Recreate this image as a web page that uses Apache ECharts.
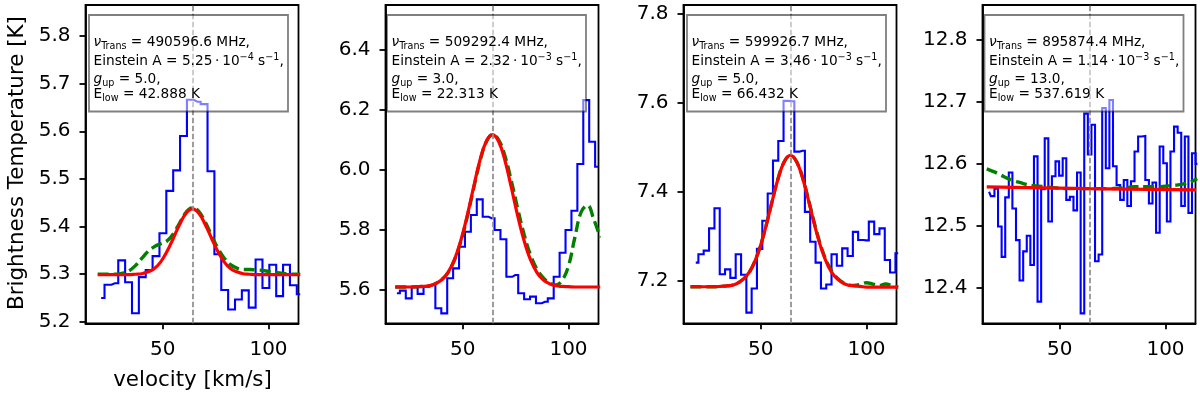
<!DOCTYPE html>
<html>
<head>
<meta charset="utf-8">
<script src="https://cdn.jsdelivr.net/npm/echarts@6.0.0/dist/echarts.min.js"></script>
<style>
html,body{margin:0;padding:0;background:#ffffff;}
#chart{width:1200px;height:397px;}
</style>
</head>
<body>
<div id="chart"></div>
<script>
// ---------------- DATA ----------------
// Panel 1 : 490596.6 MHz
const vel1 = [20.8, 24.0, 27.3, 30.5, 33.8, 37.0, 40.3, 43.5, 46.8, 50.0, 53.3, 56.5, 59.8, 63.0, 66.3, 69.5, 72.8, 76.0, 79.3, 82.5, 85.8, 89.0, 92.3, 95.5, 98.8, 102.0, 105.3, 108.5, 111.8, 115.0];
const tb1 = [5.250, 5.278, 5.281, 5.329, 5.283, 5.218, 5.294, 5.309, 5.338, 5.386, 5.475, 5.518, 5.590, 5.666, 5.662, 5.657, 5.516, 5.342, 5.267, 5.226, 5.247, 5.266, 5.230, 5.331, 5.271, 5.320, 5.254, 5.320, 5.277, 5.258];
const fitVel1 = [19.2, 22, 25, 28, 31, 34, 37, 40, 43, 46, 49, 52, 55, 58, 61, 64, 67, 70, 73, 76, 79, 82, 85, 88, 91, 94, 97, 100, 103, 106, 109, 112, 115];
const fitRed1 = [5.299, 5.299, 5.299, 5.299, 5.299, 5.299, 5.300, 5.301, 5.305, 5.312, 5.326, 5.348, 5.376, 5.405, 5.428, 5.437, 5.428, 5.405, 5.376, 5.348, 5.326, 5.312, 5.305, 5.301, 5.300, 5.299, 5.299, 5.299, 5.299, 5.299, 5.299, 5.299, 5.299];
const fitGreen1 = [5.300, 5.300, 5.300, 5.300, 5.302, 5.307, 5.318, 5.333, 5.348, 5.358, 5.364, 5.370, 5.385, 5.408, 5.430, 5.440, 5.432, 5.410, 5.382, 5.355, 5.334, 5.320, 5.313, 5.310, 5.310, 5.309, 5.308, 5.306, 5.304, 5.302, 5.301, 5.300, 5.300];

// Panel 2 : 509292.4 MHz
const vel2 = [18.8, 21.6, 24.4, 27.2, 30.0, 32.8, 35.6, 38.4, 41.2, 44.0, 46.8, 49.6, 52.4, 55.2, 58.0, 60.8, 63.6, 66.4, 69.2, 72.0, 74.8, 77.6, 80.4, 83.2, 86.0, 88.8, 91.6, 94.4, 97.2, 100.0, 102.8, 105.6, 108.4, 111.2, 114.0];
const tb2 = [5.589, 5.598, 5.572, 5.609, 5.587, 5.611, 5.617, 5.539, 5.522, 5.639, 5.672, 5.744, 5.794, 5.850, 5.902, 5.844, 5.839, 5.800, 5.769, 5.644, 5.650, 5.589, 5.569, 5.578, 5.556, 5.561, 5.572, 5.644, 5.724, 5.800, 5.864, 6.020, 6.233, 6.094, 6.011];
const fitVel2 = [18, 22, 25, 28, 31, 34, 37, 40, 43, 46, 49, 52, 55, 58, 61, 64, 67, 70, 73, 76, 79, 82, 85, 88, 91, 94, 97, 100, 103, 106, 109, 112, 115];
const fitRed2 = [5.610, 5.610, 5.610, 5.611, 5.612, 5.614, 5.621, 5.634, 5.659, 5.701, 5.764, 5.846, 5.940, 6.030, 6.094, 6.118, 6.094, 6.030, 5.940, 5.846, 5.764, 5.701, 5.659, 5.634, 5.621, 5.614, 5.612, 5.611, 5.610, 5.610, 5.610, 5.610, 5.610];
const fitGreen2 = [5.610, 5.610, 5.610, 5.611, 5.612, 5.614, 5.621, 5.634, 5.658, 5.699, 5.760, 5.841, 5.935, 6.026, 6.092, 6.118, 6.100, 6.045, 5.962, 5.870, 5.785, 5.717, 5.670, 5.641, 5.624, 5.617, 5.632, 5.680, 5.775, 5.860, 5.882, 5.835, 5.775];

// Panel 3 : 599926.7 MHz
const vel3 = [19.2, 21.7, 24.2, 26.8, 29.3, 31.8, 34.3, 36.8, 39.4, 41.9, 44.4, 46.9, 49.4, 52.0, 54.5, 57.0, 59.5, 62.0, 64.6, 67.1, 69.6, 72.1, 74.6, 77.2, 79.7, 82.2, 84.7, 87.2, 89.8, 92.3, 94.8, 97.3, 99.8, 102.4, 104.9, 107.4, 109.9, 112.4, 115.0];
const tb3 = [7.241, 7.260, 7.268, 7.318, 7.363, 7.215, 7.226, 7.207, 7.260, 7.214, 7.129, 7.183, 7.272, 7.335, 7.396, 7.470, 7.514, 7.604, 7.603, 7.490, 7.492, 7.355, 7.288, 7.241, 7.183, 7.192, 7.260, 7.234, 7.273, 7.256, 7.310, 7.292, 7.291, 7.333, 7.305, 7.318, 7.247, 7.219, 7.262];
const fitVel3 = [16.7, 19, 22, 25, 28, 31, 34, 37, 40, 43, 46, 49, 52, 55, 58, 61, 64, 67, 70, 73, 76, 79, 82, 85, 88, 91, 94, 97, 100, 103, 106, 109, 112, 115];
const fitRed3 = [7.187, 7.187, 7.187, 7.187, 7.187, 7.188, 7.189, 7.191, 7.198, 7.210, 7.232, 7.267, 7.315, 7.372, 7.427, 7.467, 7.482, 7.467, 7.427, 7.372, 7.315, 7.267, 7.232, 7.210, 7.198, 7.191, 7.189, 7.188, 7.186, 7.186, 7.186, 7.186, 7.186, 7.186];
const fitGreen3 = [7.187, 7.187, 7.187, 7.187, 7.187, 7.188, 7.189, 7.191, 7.198, 7.210, 7.232, 7.267, 7.315, 7.372, 7.427, 7.467, 7.482, 7.467, 7.428, 7.374, 7.318, 7.270, 7.235, 7.212, 7.199, 7.192, 7.190, 7.192, 7.196, 7.193, 7.190, 7.193, 7.190, 7.186];

// Panel 4 : 895874.4 MHz
const vel4 = [16.5, 18.2, 19.9, 21.6, 23.3, 25.0, 26.7, 28.4, 30.1, 31.8, 33.5, 35.2, 36.9, 38.6, 40.3, 42.0, 43.7, 45.4, 47.1, 48.8, 50.5, 52.2, 53.9, 55.6, 57.3, 59.0, 60.7, 62.4, 64.1, 65.8, 67.5, 69.2, 70.9, 72.6, 74.3, 76.0, 77.7, 79.4, 81.1, 82.8, 84.5, 86.2, 87.9, 89.6, 91.3, 93.0, 94.7, 96.4, 98.1, 99.8, 101.5, 103.2, 104.9, 106.6, 108.3, 110.0, 111.7, 113.4, 115.1];
const tb4 = [12.555, 12.548, 12.560, 12.499, 12.450, 12.546, 12.586, 12.528, 12.477, 12.412, 12.459, 12.484, 12.437, 12.612, 12.378, 12.559, 12.641, 12.507, 12.580, 12.604, 12.581, 12.609, 12.542, 12.547, 12.525, 12.586, 12.359, 12.681, 12.615, 12.663, 12.443, 12.454, 12.690, 12.593, 12.703, 12.596, 12.566, 12.542, 12.574, 12.532, 12.572, 12.620, 12.644, 12.645, 12.574, 12.536, 12.570, 12.489, 12.628, 12.601, 12.507, 12.620, 12.660, 12.650, 12.532, 12.644, 12.521, 12.617, 12.600];
const fitVel4 = [15.4, 64, 114.5];
const fitRed4 = [12.563, 12.560, 12.558];
const fitVelG4 = [15.4, 19, 22, 25, 28, 31, 34, 37, 40, 43, 46, 49, 55, 64, 73, 79, 82, 85, 91, 97, 100, 103, 106, 109, 112, 115];
const fitGreen4 = [12.592, 12.587, 12.582, 12.577, 12.573, 12.570, 12.567, 12.565, 12.564, 12.563, 12.562, 12.561, 12.560, 12.560, 12.560, 12.561, 12.562, 12.563, 12.563, 12.563, 12.564, 12.565, 12.566, 12.568, 12.571, 12.576];

// axes
const xRange = [13.4, 114.2];
const xTicks = [50, 100];
const yRanges = [[5.197, 5.865], [5.489, 6.55], [7.105, 7.819], [12.343, 12.856]];
const yTicks1 = [5.2, 5.3, 5.4, 5.5, 5.6, 5.7, 5.8];
const yTicks2 = [5.6, 5.8, 6.0, 6.2, 6.4];
const yTicks3 = [7.2, 7.4, 7.6, 7.8];
const yTicks4 = [12.4, 12.5, 12.6, 12.7, 12.8];
const restVelocity = 64.0;

// annotation texts
const nuTrans = ['490596.6', '509292.4', '599926.7', '895874.4'];
const einsteinA = ['5.25', '2.32', '3.46', '1.14'];
const einsteinExp = ['\u22124', '\u22123', '\u22123', '\u22123'];
const gUp = ['5.0', '3.0', '5.0', '13.0'];
const eLow = ['42.888', '22.313', '66.432', '537.619'];

const xLabel = 'velocity [km/s]';
const yLabel = 'Brightness Temperature [K]';

// ---------------- BUILD ----------------
const FONT = 'DejaVu Sans';
const vels = [vel1, vel2, vel3, vel4];
const tbs = [tb1, tb2, tb3, tb4];
const fitVels = [fitVel1, fitVel2, fitVel3, fitVel4];
const fitReds = [fitRed1, fitRed2, fitRed3, fitRed4];
const fitVelsG = [fitVel1, fitVel2, fitVel3, fitVelG4];
const fitGreens = [fitGreen1, fitGreen2, fitGreen3, fitGreen4];
const yTicks = [yTicks1, yTicks2, yTicks3, yTicks4];

const gridLeft = [85.5, 385.5, 683.5, 982.5];
const gridTop = 5, gridW = 213, gridH = 318.3;
const boxX = [89, 387, 687, 984.5];

const zip = (a, b) => a.map((v, k) => [v, b[k]]);

const grids = [], xAxes = [], yAxes = [], series = [], graphics = [];
for (let i = 0; i < 4; i++) {
  grids.push({
    left: gridLeft[i], top: gridTop, width: gridW, height: gridH,
    show: true, borderColor: '#000', borderWidth: 1.8, backgroundColor: 'transparent',
    outerBoundsMode: 'none'
  });
  xAxes.push({
    gridIndex: i, type: 'value', min: xRange[0], max: xRange[1],
    axisLine: { show: true, onZero: false, lineStyle: { color: '#000', width: 1.8 } },
    axisTick: { show: true, length: 6, customValues: xTicks, lineStyle: { color: '#000', width: 1.8 } },
    axisLabel: { customValues: xTicks, fontSize: 20, fontFamily: FONT, color: '#000', margin: 16,
                 formatter: v => String(Math.round(v)) },
    splitLine: { show: false }
  });
  yAxes.push({
    gridIndex: i, type: 'value', min: yRanges[i][0], max: yRanges[i][1],
    axisLine: { show: true, onZero: false, lineStyle: { color: '#000', width: 1.8 } },
    axisTick: { show: true, length: 6, customValues: yTicks[i], lineStyle: { color: '#000', width: 1.8 } },
    axisLabel: { customValues: yTicks[i], fontSize: 20, fontFamily: FONT, color: '#000', margin: 15,
                 formatter: v => Number(v).toFixed(1) },
    splitLine: { show: false }
  });
  series.push({
    type: 'line', xAxisIndex: i, yAxisIndex: i, step: 'middle', silent: true,
    data: zip(vels[i], tbs[i]), symbol: 'none', showSymbol: false, z: 2,
    lineStyle: { color: '#0000ff', width: 2.1, join: 'miter' },
    markLine: {
      silent: true, symbol: ['none', 'none'], animation: false,
      label: { show: false },
      lineStyle: { color: '#8c8c8c', width: 1.7, type: [5.5, 2.5] },
      data: [{ xAxis: restVelocity }]
    }
  });
  series.push({
    type: 'line', xAxisIndex: i, yAxisIndex: i, smooth: 0.4, silent: true,
    data: zip(fitVelsG[i], fitGreens[i]), symbol: 'none', showSymbol: false, z: 3,
    lineStyle: { color: '#008000', width: 3.4, type: [11, 5] }
  });
  series.push({
    type: 'line', xAxisIndex: i, yAxisIndex: i, smooth: 0.4, silent: true,
    data: zip(fitVels[i], fitReds[i]), symbol: 'none', showSymbol: false, z: 4,
    lineStyle: { color: '#ff0000', width: 3.2 }
  });

  // annotation box
  graphics.push({
    type: 'rect', z: 50, silent: true,
    shape: { x: boxX[i], y: 15, width: 199, height: 96.5 },
    style: { fill: 'rgba(255,255,255,0.5)', stroke: 'rgba(0,0,0,0.5)', lineWidth: 1.8 }
  });
  const rich = {
    n: { fontSize: 13.7, fontFamily: FONT, fill: '#000', verticalAlign: 'middle', lineHeight: 18 },
    it: { fontSize: 13.7, fontFamily: FONT, fontStyle: 'italic', fill: '#000', verticalAlign: 'middle', lineHeight: 18 },
    sub: { fontSize: 9.6, fontFamily: FONT, fill: '#000', verticalAlign: 'bottom', lineHeight: 18 },
    sup: { fontSize: 9.6, fontFamily: FONT, fill: '#000', verticalAlign: 'top', lineHeight: 18 }
  };
  const lines = [
    '{it|\u03bd}{sub|Trans}{n| = ' + nuTrans[i] + ' MHz,}',
    '{n|Einstein A = ' + einsteinA[i] + '\u2009\u00b7\u200910}{sup|' + einsteinExp[i] + '}{n| s}{sup|\u22121}{n|,}',
    '{it|g}{sub|up}{n| = ' + gUp[i] + ',}',
    '{n|E}{sub|low}{n| = ' + eLow[i] + ' K}'
  ];
  const lineY = [42.5, 61.5, 79, 94.5];
  lines.forEach((t, k) => {
    graphics.push({
      type: 'text', z: 51, silent: true, x: boxX[i] + 4.5, y: lineY[k],
      style: { text: t, rich: rich, fontSize: 13.7, fontFamily: FONT, fill: '#000',
               align: 'left', verticalAlign: 'middle' }
    });
  });
}

graphics.push({
  type: 'text', z: 51, silent: true, x: 17, y: 163, rotation: Math.PI / 2,
  style: { text: yLabel, fontSize: 21.4, fontFamily: FONT, fill: '#000', align: 'center', verticalAlign: 'middle' }
});
graphics.push({
  type: 'text', z: 51, silent: true, x: 192.5, y: 380,
  style: { text: xLabel, fontSize: 21.4, fontFamily: FONT, fill: '#000', align: 'center', verticalAlign: 'middle' }
});

const chart = echarts.init(document.getElementById('chart'), null, { renderer: 'canvas' });
chart.setOption({
  animation: false,
  backgroundColor: '#ffffff',
  grid: grids,
  xAxis: xAxes,
  yAxis: yAxes,
  series: series,
  graphic: { elements: graphics }
});
</script>
</body>
</html>
